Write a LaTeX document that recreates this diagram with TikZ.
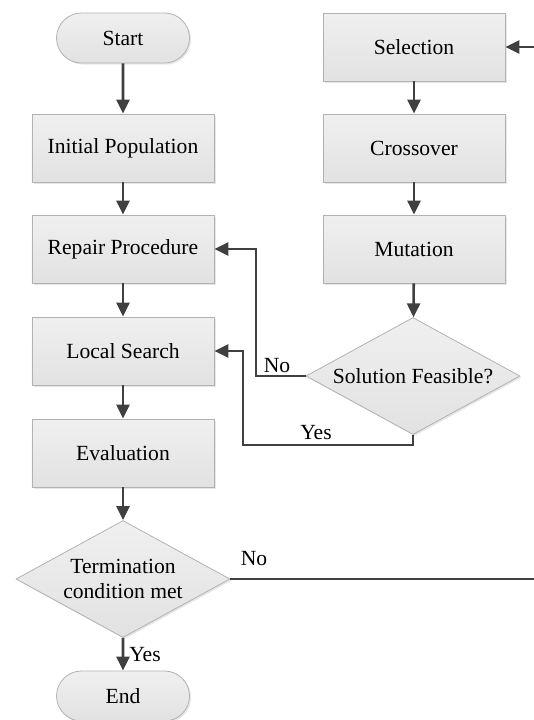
\documentclass[tikz,border=0pt]{standalone}
\usepackage{fontspec}
\setmainfont{Liberation Serif}
\usetikzlibrary{positioning}
\usetikzlibrary{arrows.meta}
\usetikzlibrary{shapes.geometric}
\usetikzlibrary{shapes.misc}
\usetikzlibrary{shadows}

\begin{document}
\begin{tikzpicture}[x=0.5pt, y=-0.5pt, align=center,
  font=\fontsize{10.8}{12.5}\selectfont,
  block/.style={draw=gray!60, top color=gray!12, bottom color=gray!23,
    drop shadow={shadow xshift=0.8pt, shadow yshift=-0.8pt, opacity=0.2}},
  box/.style={block, rectangle, minimum width=91pt, minimum height=34pt, inner sep=0pt},
  term/.style={block, rounded rectangle, minimum width=66.5pt, minimum height=25pt, inner sep=0pt},
  decision/.style={block, diamond, shape aspect=1.83, minimum width=107pt, minimum height=58.5pt, inner sep=0pt},
  arr/.style={draw=black!75, line width=1.3pt, -{Triangle[length=7pt, width=6.5pt]}}]
  \clip (0,0) rectangle (534,720);
  % left column
  \node[term] (start) at (123,38) {Start};
  \node[box] (init) at (123,148) {Initial Population};
  \node[box] (repair) at (123,249) {Repair Procedure};
  \node[box] (local) at (123,351) {Local Search};
  \node[box] (eval) at (123,453) {Evaluation};
  \node[decision] (term) at (123,579) {Termination\\condition met};
  \node[term] (end) at (123,696) {End};
  % right column
  \node[box] (sel) at (414,47) {Selection};
  \node[box] (cross) at (414,148) {Crossover};
  \node[box] (mut) at (414,249) {Mutation};
  \node[decision] (feas) at (413,376) {Solution Feasible?};
  % bends
  \coordinate (nobend) at (256,376);
  \coordinate (yesbend) at (243,445);
  \coordinate (loopR) at (580,579);
  % arrows
  \draw[arr] (start) -- (init);
  \draw[arr] (init) -- (repair);
  \draw[arr] (repair) -- (local);
  \draw[arr] (local) -- (eval);
  \draw[arr] (eval) -- (term);
  \draw[arr] (term) -- (end);
  \draw[arr] (sel) -- (cross);
  \draw[arr] (cross) -- (mut);
  \draw[arr] (mut) -- (feas);
  \draw[arr] (feas.west) -- (nobend) |- (repair.east);
  \draw[arr] (feas.south) |- (yesbend) |- (local.east);
  \draw[arr] (term.east) -- (loopR) |- (sel.east);
  % labels
  \node (lblno) at (277,366) {No};
  \node (lblyes) at (316,433) {Yes};
  \node (lblno2) at (254,559) {No};
  \node (lblyes2) at (145,655) {Yes};
\end{tikzpicture}
\end{document}
